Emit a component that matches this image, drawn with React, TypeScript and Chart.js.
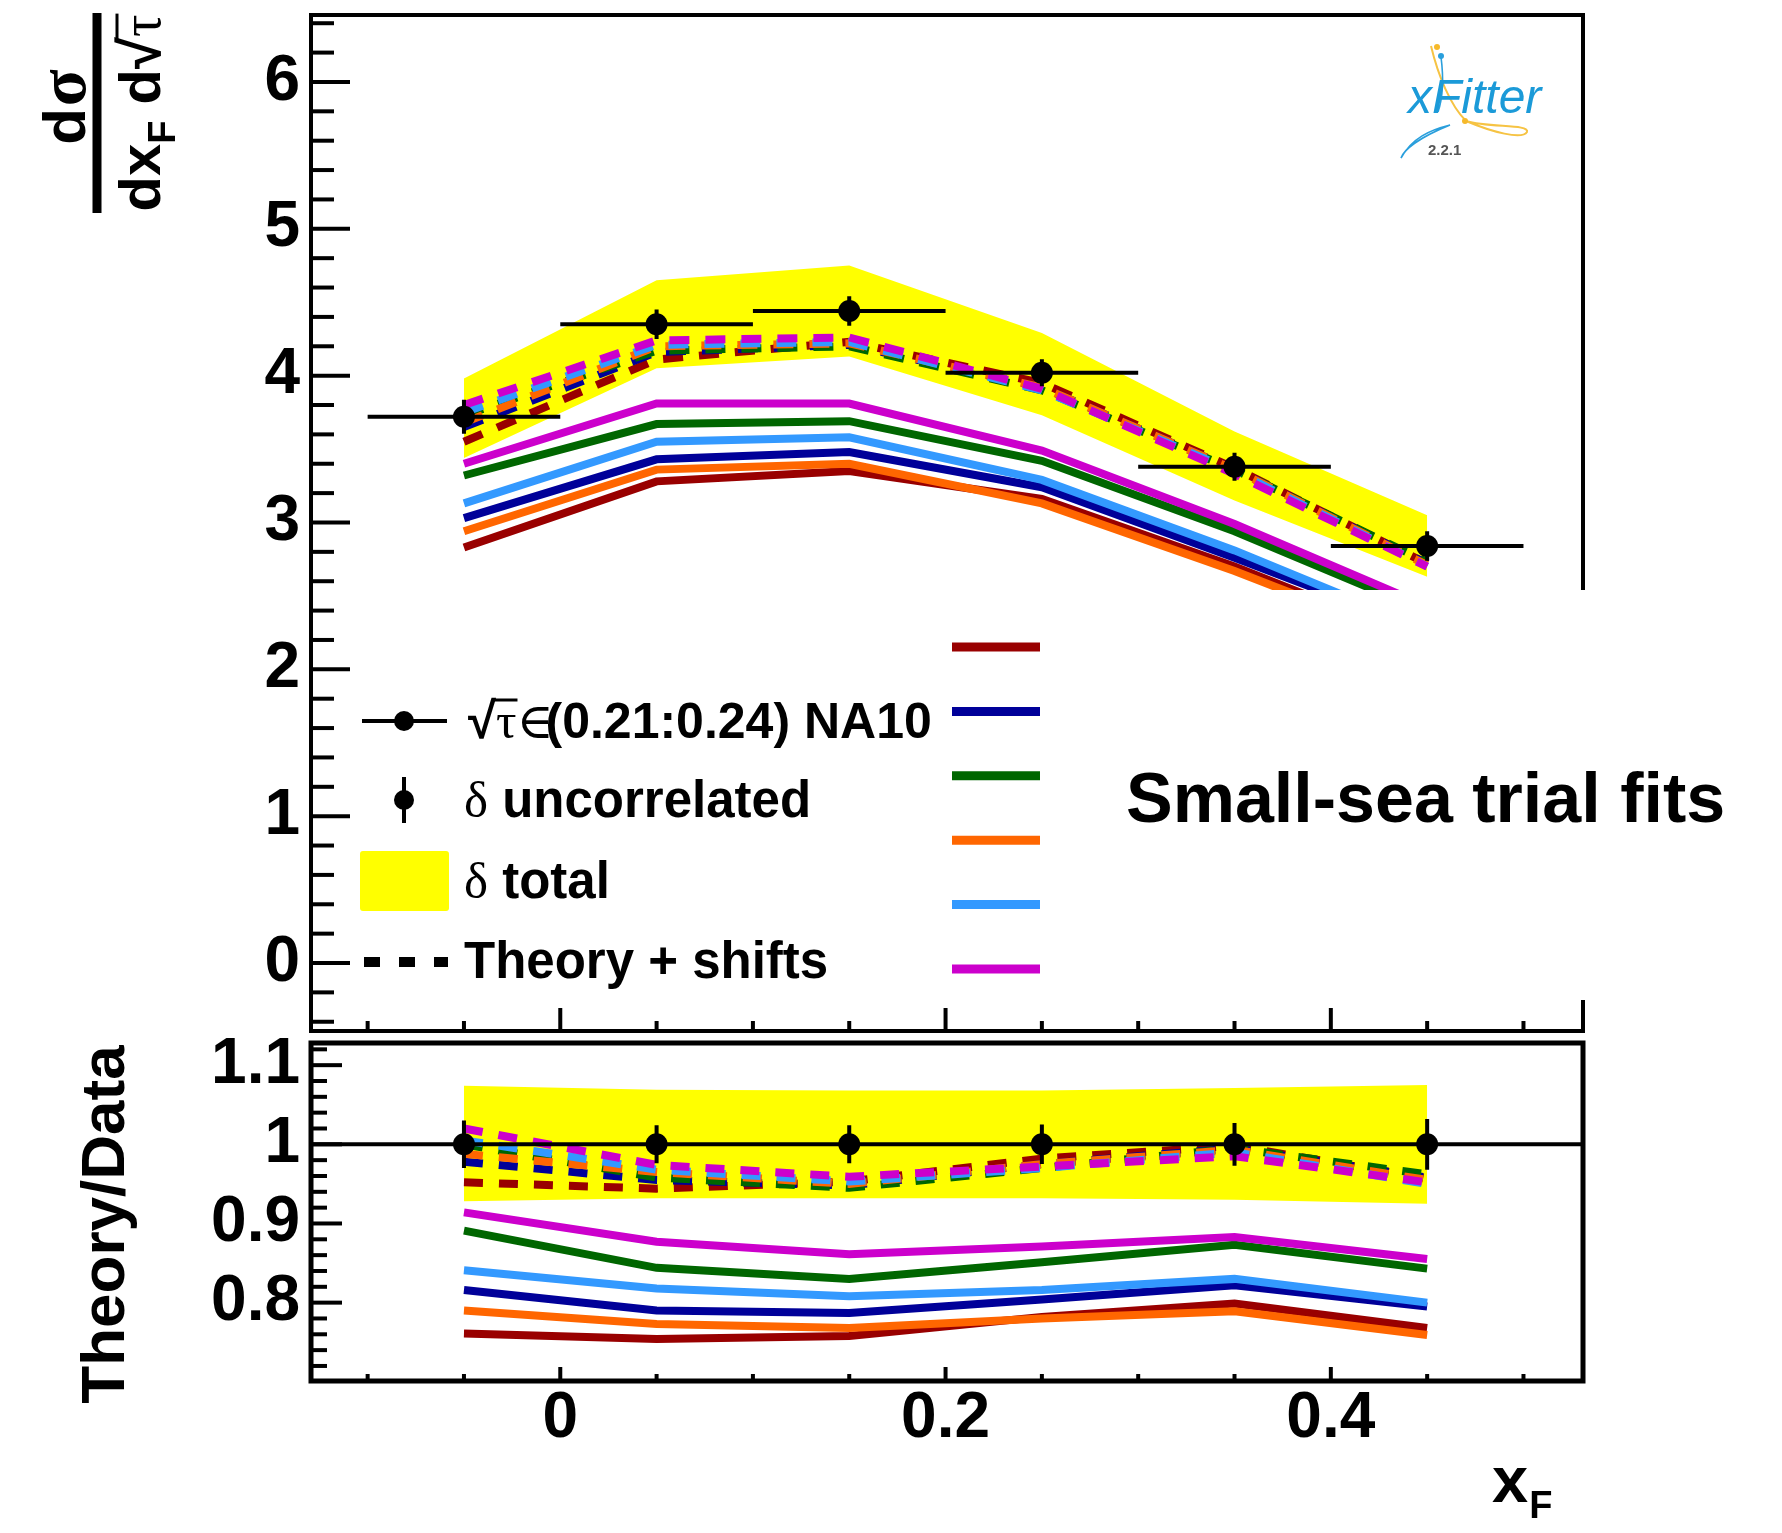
import React, { useEffect, useRef } from 'react';
import { Chart, registerables } from 'chart.js';

Chart.register(...registerables);

// ---------------- data ----------------
const X_CENTERS = [-0.05, 0.05, 0.15, 0.25, 0.35, 0.45];
const X_HALF_WIDTHS = [0.05, 0.05, 0.05, 0.05, 0.05, 0.05];

const DATA_VALUES = [3.72, 4.35, 4.44, 4.02, 3.38, 2.84];
const DATA_UNCORR_ERR = [0.115, 0.1, 0.1, 0.092, 0.095, 0.1];
const TOTAL_BAND_UPPER = [3.98, 4.65, 4.75, 4.29, 3.62, 3.05];
const TOTAL_BAND_LOWER = [3.44, 4.05, 4.13, 3.73, 3.15, 2.63];

// trial fits, theory (solid)
const FIT1_THEORY = [2.83, 3.28, 3.35, 3.16, 2.7, 2.18];
const FIT2_THEORY = [3.03, 3.43, 3.48, 3.24, 2.76, 2.26];
const FIT3_THEORY = [3.32, 3.67, 3.69, 3.42, 2.94, 2.39];
const FIT4_THEORY = [2.94, 3.36, 3.4, 3.13, 2.67, 2.16];
const FIT5_THEORY = [3.13, 3.55, 3.58, 3.29, 2.81, 2.27];
const FIT6_THEORY = [3.4, 3.81, 3.81, 3.49, 2.99, 2.43];

// trial fits, theory + shifts (dashed)
const FIT1_SHIFTED = [3.55, 4.11, 4.23, 3.95, 3.37, 2.72];
const FIT2_SHIFTED = [3.65, 4.16, 4.21, 3.92, 3.36, 2.72];
const FIT3_SHIFTED = [3.73, 4.17, 4.2, 3.9, 3.36, 2.73];
const FIT4_SHIFTED = [3.68, 4.2, 4.22, 3.92, 3.36, 2.71];
const FIT5_SHIFTED = [3.75, 4.21, 4.23, 3.9, 3.35, 2.7];
const FIT6_SHIFTED = [3.8, 4.24, 4.26, 3.91, 3.33, 2.7];

// ratio panel
const DATA_RATIO = [1, 1, 1, 1, 1, 1];
const RATIO_UNCORR_ERR = [0.03, 0.024, 0.024, 0.025, 0.027, 0.032];
const RATIO_BAND_UPPER = [1.074, 1.069, 1.068, 1.068, 1.071, 1.075];
const RATIO_BAND_LOWER = [0.928, 0.932, 0.932, 0.932, 0.93, 0.925];
const RATIO_REFERENCE = 1;

const FIT1_RATIO = [0.761, 0.754, 0.758, 0.782, 0.799, 0.768];
const FIT2_RATIO = [0.816, 0.79, 0.787, 0.804, 0.822, 0.795];
const FIT3_RATIO = [0.891, 0.844, 0.83, 0.851, 0.873, 0.843];
const FIT4_RATIO = [0.79, 0.773, 0.768, 0.78, 0.789, 0.759];
const FIT5_RATIO = [0.841, 0.818, 0.808, 0.816, 0.83, 0.8];
const FIT6_RATIO = [0.914, 0.877, 0.861, 0.871, 0.883, 0.855];

const FIT1_RATIO_SHIFTED = [0.952, 0.944, 0.953, 0.982, 0.998, 0.957];
const FIT2_RATIO_SHIFTED = [0.978, 0.955, 0.948, 0.975, 0.995, 0.958];
const FIT3_RATIO_SHIFTED = [1.0, 0.958, 0.945, 0.97, 0.995, 0.962];
const FIT4_RATIO_SHIFTED = [0.988, 0.965, 0.95, 0.975, 0.993, 0.955];
const FIT5_RATIO_SHIFTED = [1.005, 0.968, 0.953, 0.97, 0.99, 0.95];
const FIT6_RATIO_SHIFTED = [1.02, 0.974, 0.959, 0.972, 0.985, 0.952];

// tick labels
const TOP_Y_TICK_LABELS = [0, 1, 2, 3, 4, 5, 6];
const RATIO_Y_TICK_LABELS = [0.8, 0.9, 1, 1.1];
const X_TICK_LABELS = [0, 0.2, 0.4];

// axis ranges
const X_MIN = -0.1294;
const X_MAX = 0.5309;
const Y_TOP_MIN = -0.463;
const Y_TOP_MAX = 6.456;
const Y_RATIO_MIN = 0.701;
const Y_RATIO_MAX = 1.128;

// legend texts
const LEGEND_DATA_LABEL = '(0.21:0.24) NA10';
const LEGEND_UNCORR_LABEL = ' uncorrelated';
const LEGEND_TOTAL_LABEL = ' total';
const LEGEND_SHIFT_LABEL = 'Theory + shifts';
const PLOT_LABEL = 'Small-sea trial fits';

// ---------------- styles ----------------
const FIT_COLORS = ['#990000', '#000099', '#006600', '#ff6600', '#3399ff', '#cc00cc'];
const YELLOW = '#ffff00';
const SANS = '"Liberation Sans", Arial, Helvetica, sans-serif';
const SERIF = '"Liberation Serif", "DejaVu Serif", serif';
const W = 1782;
const SPLIT = 1036;
const H = 1533;

const TOP_FITS = [FIT1_THEORY, FIT2_THEORY, FIT3_THEORY, FIT4_THEORY, FIT5_THEORY, FIT6_THEORY];
const TOP_SHIFTED = [FIT1_SHIFTED, FIT2_SHIFTED, FIT3_SHIFTED, FIT4_SHIFTED, FIT5_SHIFTED, FIT6_SHIFTED];
const RATIO_FITS = [FIT1_RATIO, FIT2_RATIO, FIT3_RATIO, FIT4_RATIO, FIT5_RATIO, FIT6_RATIO];
const RATIO_SHIFTED = [
  FIT1_RATIO_SHIFTED, FIT2_RATIO_SHIFTED, FIT3_RATIO_SHIFTED,
  FIT4_RATIO_SHIFTED, FIT5_RATIO_SHIFTED, FIT6_RATIO_SHIFTED,
];

// ---------------- helpers ----------------
const pts = (ys: number[]) => X_CENTERS.map((x, i) => ({ x, y: ys[i] }));
const vBars = (ys: number[], errs: number[]) =>
  X_CENTERS.flatMap((x, i) => [
    { x, y: ys[i] - errs[i] },
    { x, y: ys[i] + errs[i] },
    { x, y: null as any },
  ]);
const hBars = (ys: number[]) =>
  X_CENTERS.flatMap((x, i) => [
    { x: x - X_HALF_WIDTHS[i], y: ys[i] },
    { x: x + X_HALF_WIDTHS[i], y: ys[i] },
    { x: x + X_HALF_WIDTHS[i], y: null as any },
  ]);

function lineDs(data: any[], color: string, width: number, dash: number[] = []) {
  return {
    type: 'line',
    data,
    borderColor: color,
    borderWidth: width,
    borderDash: dash,
    borderCapStyle: 'butt',
    borderJoinStyle: 'miter',
    pointRadius: 0,
    fill: false,
    tension: 0,
    spanGaps: false,
  };
}

function withOrder(ds: any[]) {
  return ds.map((d, i) => ({ ...d, order: ds.length - i }));
}

function tickValues(min: number, max: number, step: number) {
  const out: number[] = [];
  for (let k = Math.ceil(min / step - 1e-9); k <= Math.floor(max / step + 1e-9); k++) out.push(k * step);
  return out;
}
const isMultiple = (v: number, m: number) => Math.abs(v / m - Math.round(v / m)) < 1e-6;

type Seg = { t: string; font: string; dy?: number; dx?: number };
function segsWidth(ctx: CanvasRenderingContext2D, segs: Seg[]) {
  let w = 0;
  for (const s of segs) {
    ctx.font = s.font;
    w += ctx.measureText(s.t).width + (s.dx || 0);
  }
  return w;
}
function drawSegs(ctx: CanvasRenderingContext2D, segs: Seg[], x: number, y: number) {
  const pos: { x0: number; x1: number }[] = [];
  let cx = x;
  for (const s of segs) {
    ctx.font = s.font;
    cx += s.dx || 0;
    ctx.fillText(s.t, cx, y + (s.dy || 0));
    const w = ctx.measureText(s.t).width;
    pos.push({ x0: cx, x1: cx + w });
    cx += w;
  }
  return pos;
}
function seg(ctx: CanvasRenderingContext2D, x1: number, y1: number, x2: number, y2: number) {
  ctx.beginPath();
  ctx.moveTo(x1, y1);
  ctx.lineTo(x2, y2);
  ctx.stroke();
}

function drawLogo(ctx: CanvasRenderingContext2D) {
  ctx.save();
  // yellow loop
  ctx.strokeStyle = '#f6c343';
  ctx.lineWidth = 2;
  ctx.beginPath();
  ctx.moveTo(1431, 46);
  ctx.bezierCurveTo(1438, 75, 1450, 105, 1466, 121);
  ctx.bezierCurveTo(1490, 128, 1530, 124, 1527, 132);
  ctx.bezierCurveTo(1522, 140, 1492, 132, 1466, 121);
  ctx.stroke();
  ctx.fillStyle = '#f6b92a';
  ctx.beginPath(); ctx.arc(1437, 47, 3, 0, Math.PI * 2); ctx.fill();
  ctx.beginPath(); ctx.arc(1465, 121, 3, 0, Math.PI * 2); ctx.fill();
  // blue path
  ctx.strokeStyle = '#2a9fdc';
  ctx.lineWidth = 1.6;
  ctx.beginPath();
  ctx.moveTo(1441, 57);
  ctx.bezierCurveTo(1444, 80, 1442, 100, 1438, 112);
  ctx.stroke();
  ctx.beginPath();
  ctx.moveTo(1450, 125);
  ctx.bezierCurveTo(1430, 130, 1412, 138, 1401, 158);
  ctx.bezierCurveTo(1404, 150, 1418, 138, 1450, 125);
  ctx.stroke();
  ctx.fillStyle = '#2a9fdc';
  ctx.beginPath(); ctx.arc(1441, 56, 3, 0, Math.PI * 2); ctx.fill();
  // text
  ctx.fillStyle = '#1b9ad8';
  ctx.font = `italic 48px ${SANS}`;
  ctx.textBaseline = 'alphabetic';
  ctx.textAlign = 'left';
  ctx.fillText('xFitter', 1408, 113);
  ctx.fillStyle = '#555';
  ctx.font = `bold 15px ${SANS}`;
  ctx.fillText('2.2.1', 1428, 155);
  ctx.restore();
}

// ---------------- plugins ----------------
const topDecor = {
  id: 'topDecor',
  afterDatasetsDraw(chart: any) {
    const { ctx, chartArea: a } = chart;
    const xs = chart.scales.x;
    const ys = chart.scales.y;
    ctx.save();
    ctx.strokeStyle = '#000';
    ctx.lineCap = 'butt';
    ctx.lineWidth = 4;
    for (const v of tickValues(Y_TOP_MIN, Y_TOP_MAX, 0.2)) {
      const py = ys.getPixelForValue(v);
      seg(ctx, a.left, py, a.left + (isMultiple(v, 1) ? 39 : 23), py);
    }
    for (const v of tickValues(X_MIN, X_MAX, 0.05)) {
      const px = xs.getPixelForValue(v);
      seg(ctx, px, a.bottom, px, a.bottom - (isMultiple(v, 0.2) ? 23 : 10));
    }
    ctx.lineWidth = 4;
    ctx.strokeRect(a.left, a.top, a.right - a.left, a.bottom - a.top);

    // legend box
    ctx.fillStyle = '#fff';
    ctx.fillRect(356, 590, 1600 - 356, 1000 - 590);

    ctx.fillStyle = '#000';
    ctx.strokeStyle = '#000';
    ctx.textAlign = 'left';
    ctx.textBaseline = 'alphabetic';
    // entry 1: data
    ctx.lineWidth = 4;
    seg(ctx, 362, 721, 447, 721);
    ctx.beginPath(); ctx.arc(404, 721, 10, 0, Math.PI * 2); ctx.fill();
    const f51 = `bold 51px ${SANS}`;
    const e1: Seg[] = [
      { t: '\u221A', font: f51 },
      { t: '\u03C4', font: `51px ${SERIF}` },
      { t: '\u2208', font: `50px ${SERIF}` },
      { t: LEGEND_DATA_LABEL, font: `bold 50px ${SANS}`, dx: -8 },
    ];
    const p1 = drawSegs(ctx, e1, 468, 738);
    ctx.lineWidth = 3;
    seg(ctx, p1[0].x1 - 3, 700, p1[1].x1 + 1, 700);
    // entry 2: uncorrelated
    ctx.lineWidth = 4;
    seg(ctx, 404, 777, 404, 823);
    ctx.beginPath(); ctx.arc(404, 800, 10, 0, Math.PI * 2); ctx.fill();
    drawSegs(ctx, [
      { t: '\u03B4', font: `51px ${SERIF}` },
      { t: LEGEND_UNCORR_LABEL, font: f51 },
    ], 464, 817);
    // entry 3: total
    ctx.fillStyle = YELLOW;
    ctx.beginPath();
    (ctx as any).roundRect ? (ctx as any).roundRect(360, 851, 89, 60, 3) : ctx.rect(360, 851, 89, 60);
    ctx.fill();
    ctx.fillStyle = '#000';
    drawSegs(ctx, [
      { t: '\u03B4', font: `51px ${SERIF}` },
      { t: LEGEND_TOTAL_LABEL, font: f51 },
    ], 464, 898);
    // entry 4: theory + shifts
    ctx.lineWidth = 10;
    ctx.setLineDash([16, 19]);
    seg(ctx, 364, 962, 448, 962);
    ctx.setLineDash([]);
    ctx.font = f51;
    ctx.fillText(LEGEND_SHIFT_LABEL, 464, 978);
    // fit colour column
    ctx.lineWidth = 9;
    FIT_COLORS.forEach((c, i) => {
      ctx.strokeStyle = c;
      const y = 647 + i * 64.4;
      seg(ctx, 952, y, 1040, y);
    });
    // label
    ctx.fillStyle = '#000';
    ctx.font = `bold 70px ${SANS}`;
    ctx.fillText(PLOT_LABEL, 1126, 822);
    ctx.restore();
  },
  afterDraw(chart: any) {
    const ctx: CanvasRenderingContext2D = chart.ctx;
    ctx.save();
    ctx.fillStyle = '#000';
    ctx.strokeStyle = '#000';
    ctx.textAlign = 'left';
    ctx.textBaseline = 'alphabetic';
    ctx.translate(97, 113);
    ctx.rotate(-Math.PI / 2);
    ctx.fillRect(-100, -4.5, 200, 9);
    const fb = `bold 58px ${SANS}`;
    const num: Seg[] = [
      { t: 'd', font: `bold 60px ${SANS}` },
      { t: '\u03C3', font: `bold 68px ${SERIF}`, dx: 2 },
    ];
    const wn = segsWidth(ctx, num);
    drawSegs(ctx, num, 6 - wn / 2, -12);
    const den: Seg[] = [
      { t: 'dx', font: fb },
      { t: 'F', font: `bold 38px ${SANS}`, dy: 15 },
      { t: ' d', font: fb },
      { t: '\u221A', font: fb },
      { t: '\u03C4', font: `56px ${SERIF}` },
    ];
    const wd = segsWidth(ctx, den);
    const pd = drawSegs(ctx, den, -wd / 2, 63);
    ctx.lineWidth = 3;
    seg(ctx, pd[3].x1 - 3, 63 - 43, pd[4].x1 + 1, 63 - 43);
    ctx.restore();
    drawLogo(ctx);
  },
};

const bottomDecor = {
  id: 'bottomDecor',
  afterDatasetsDraw(chart: any) {
    const { ctx, chartArea: a } = chart;
    const xs = chart.scales.x;
    const ys = chart.scales.y;
    ctx.save();
    ctx.strokeStyle = '#000';
    ctx.lineCap = 'butt';
    ctx.lineWidth = 4;
    for (const v of tickValues(Y_RATIO_MIN, Y_RATIO_MAX, 0.02)) {
      const py = ys.getPixelForValue(v);
      seg(ctx, a.left, py, a.left + (isMultiple(v, 0.1) ? 31 : 16), py);
    }
    for (const v of tickValues(X_MIN, X_MAX, 0.05)) {
      const px = xs.getPixelForValue(v);
      seg(ctx, px, a.bottom, px, a.bottom - (isMultiple(v, 0.2) ? 14 : 7));
    }
    ctx.lineWidth = 5;
    ctx.strokeRect(a.left, a.top, a.right - a.left, a.bottom - a.top);
    ctx.restore();
  },
  afterDraw(chart: any) {
    const ctx: CanvasRenderingContext2D = chart.ctx;
    ctx.save();
    ctx.fillStyle = '#000';
    ctx.textBaseline = 'alphabetic';
    // y title
    ctx.save();
    ctx.translate(124, 188.5);
    ctx.rotate(-Math.PI / 2);
    ctx.textAlign = 'center';
    ctx.font = `bold 62px ${SANS}`;
    ctx.fillText('Theory/Data', 0, 0);
    ctx.restore();
    // x title
    ctx.textAlign = 'left';
    ctx.font = `bold 65px ${SANS}`;
    ctx.fillText('x', 1492, 466);
    const wx = ctx.measureText('x').width;
    ctx.font = `bold 38px ${SANS}`;
    ctx.fillText('F', 1492 + wx + 1, 482);
    ctx.restore();
  },
};

// ---------------- configs ----------------
const tickFont = { family: SANS, size: 64, weight: 'bold' as const, lineHeight: 1 };

function topConfig(): any {
  const ds: any[] = [];
  ds.push({ type: 'line', data: pts(TOTAL_BAND_UPPER), borderColor: 'rgba(0,0,0,0)', borderWidth: 0, backgroundColor: YELLOW, fill: 1, pointRadius: 0, tension: 0 });
  ds.push({ type: 'line', data: pts(TOTAL_BAND_LOWER), borderColor: 'rgba(0,0,0,0)', borderWidth: 0, fill: false, pointRadius: 0, tension: 0 });
  TOP_FITS.forEach((arr, i) => ds.push(lineDs(pts(arr), FIT_COLORS[i], 8)));
  TOP_SHIFTED.forEach((arr, i) => ds.push(lineDs(pts(arr), FIT_COLORS[i], 8, [20, 16])));
  ds.push(lineDs(hBars(DATA_VALUES), '#000', 4));
  ds.push(lineDs(vBars(DATA_VALUES, DATA_UNCORR_ERR), '#000', 4));
  ds.push({ type: 'line', data: pts(DATA_VALUES), showLine: false, pointRadius: 11, pointBackgroundColor: '#000', pointBorderWidth: 0, borderColor: '#000' });
  return {
    type: 'line',
    data: { datasets: withOrder(ds) },
    options: {
      animation: false,
      responsive: false,
      devicePixelRatio: 1,
      events: [],
      layout: { autoPadding: false, padding: { left: 0, right: W - 1583, top: 15, bottom: 0 } },
      plugins: { legend: { display: false }, tooltip: { enabled: false } },
      scales: {
        x: {
          type: 'linear', min: X_MIN, max: X_MAX, bounds: 'data',
          grid: { display: false, drawTicks: false }, border: { display: false },
          ticks: { display: false },
          afterFit: (s: any) => { s.height = SPLIT - 1031; s.paddingLeft = 0; s.paddingRight = 0; },
        },
        y: {
          type: 'linear', min: Y_TOP_MIN, max: Y_TOP_MAX, bounds: 'data',
          grid: { display: false, drawTicks: false }, border: { display: false },
          afterBuildTicks: (s: any) => { s.ticks = TOP_Y_TICK_LABELS.map((v) => ({ value: v })); },
          ticks: { autoSkip: false, font: tickFont, color: '#000', padding: 11, callback: (v: any) => String(v) },
          afterFit: (s: any) => { s.width = 311; s.paddingTop = 0; s.paddingBottom = 0; },
        },
      },
    },
    plugins: [topDecor],
  };
}

function bottomConfig(): any {
  const ds: any[] = [];
  ds.push({ type: 'line', data: pts(RATIO_BAND_UPPER), borderColor: 'rgba(0,0,0,0)', borderWidth: 0, backgroundColor: YELLOW, fill: 1, pointRadius: 0, tension: 0 });
  ds.push({ type: 'line', data: pts(RATIO_BAND_LOWER), borderColor: 'rgba(0,0,0,0)', borderWidth: 0, fill: false, pointRadius: 0, tension: 0 });
  RATIO_SHIFTED.forEach((arr, i) => ds.push(lineDs(pts(arr), FIT_COLORS[i], 8, [19, 16])));
  RATIO_FITS.forEach((arr, i) => ds.push(lineDs(pts(arr), FIT_COLORS[i], 8)));
  ds.push(lineDs([{ x: X_MIN, y: RATIO_REFERENCE }, { x: X_MAX, y: RATIO_REFERENCE }], '#000', 4));
  ds.push(lineDs(vBars(DATA_RATIO, RATIO_UNCORR_ERR), '#000', 4));
  ds.push({ type: 'line', data: pts(DATA_RATIO), showLine: false, pointRadius: 11, pointBackgroundColor: '#000', pointBorderWidth: 0, borderColor: '#000' });
  return {
    type: 'line',
    data: { datasets: withOrder(ds) },
    options: {
      animation: false,
      responsive: false,
      devicePixelRatio: 1,
      events: [],
      layout: { autoPadding: false, padding: { left: 0, right: W - 1583, top: 1043 - SPLIT, bottom: 0 } },
      plugins: { legend: { display: false }, tooltip: { enabled: false } },
      scales: {
        x: {
          type: 'linear', min: X_MIN, max: X_MAX, bounds: 'data',
          grid: { display: false, drawTicks: false }, border: { display: false },
          afterBuildTicks: (s: any) => { s.ticks = X_TICK_LABELS.map((v) => ({ value: v })); },
          ticks: { autoSkip: false, maxRotation: 0, minRotation: 0, font: tickFont, color: '#000', padding: 6, callback: (v: any) => String(v) },
          afterFit: (s: any) => { s.height = H - 1381; s.paddingLeft = 0; s.paddingRight = 0; },
        },
        y: {
          type: 'linear', min: Y_RATIO_MIN, max: Y_RATIO_MAX, bounds: 'data',
          grid: { display: false, drawTicks: false }, border: { display: false },
          afterBuildTicks: (s: any) => { s.ticks = RATIO_Y_TICK_LABELS.map((v) => ({ value: v })); },
          ticks: { autoSkip: false, font: tickFont, color: '#000', padding: 11, callback: (v: any) => String(v) },
          afterFit: (s: any) => { s.width = 311; s.paddingTop = 0; s.paddingBottom = 0; },
        },
      },
    },
    plugins: [bottomDecor],
  };
}

export default function App() {
  const topRef = useRef<HTMLCanvasElement>(null);
  const botRef = useRef<HTMLCanvasElement>(null);
  useEffect(() => {
    const top = new Chart(topRef.current as HTMLCanvasElement, topConfig());
    const bot = new Chart(botRef.current as HTMLCanvasElement, bottomConfig());
    return () => {
      top.destroy();
      bot.destroy();
    };
  }, []);
  return (
    <div style={{ position: 'absolute', left: 0, top: 0, width: W, height: H, background: '#fff' }}>
      <canvas ref={topRef} width={W} height={SPLIT} style={{ position: 'absolute', left: 0, top: 0, width: W, height: SPLIT }} />
      <canvas ref={botRef} width={W} height={H - SPLIT} style={{ position: 'absolute', left: 0, top: SPLIT, width: W, height: H - SPLIT }} />
    </div>
  );
}
